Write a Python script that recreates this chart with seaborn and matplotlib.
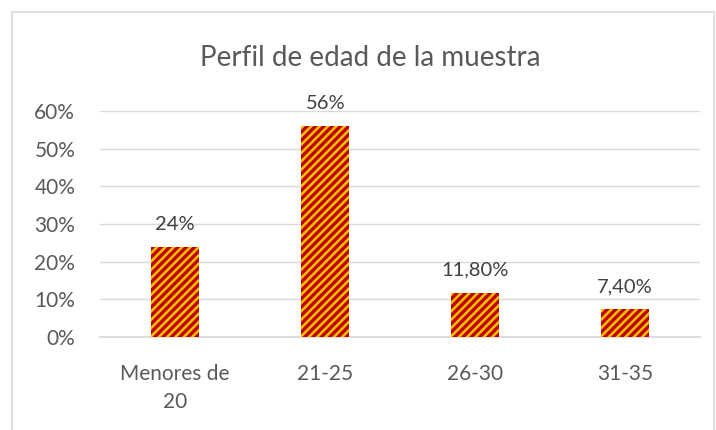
import matplotlib
matplotlib.use('Agg')
import matplotlib.pyplot as plt
import seaborn as sns
import pandas as pd
from matplotlib.patches import Rectangle

# data
categories = ['Menores de\n20', '21-25', '26-30', '31-35']
values = [24, 56, 11.8, 7.4]
value_labels = ['24%', '56%', '11,80%', '7,40%']
yticks = [0, 10, 20, 30, 40, 50, 60]
ytick_labels = ['0%', '10%', '20%', '30%', '40%', '50%', '60%']

df = pd.DataFrame({'edad': categories, 'pct': values})

sns.set_theme(style='white')
plt.rcParams['font.family'] = ['Lato', 'DejaVu Sans']
plt.rcParams['hatch.linewidth'] = 2.4

text_color = '#595959'
grid_color = '#D9D9D9'

fig = plt.figure(figsize=(7.16, 4.30), dpi=100)
ax = fig.add_axes([0.14, 0.216, 0.838, 0.526])

sns.barplot(data=df, x='edad', y='pct', width=0.32, color='#FFC000',
            saturation=1, ax=ax, zorder=3)

for p in ax.patches:
    p.set_facecolor('#FFC000')
    p.set_edgecolor('#C00000')
    p.set_hatch('////')
    p.set_linewidth(0)

for i, (v, lab) in enumerate(zip(values, value_labels)):
    ax.annotate(lab, (i, v), xytext=(0, 10), textcoords='offset points',
                ha='center', va='bottom', fontsize=14.5, color='#404040')

ax.set_ylim(0, 60)
ax.set_xlim(-0.5, 3.5)
ax.set_yticks(yticks)
ax.set_yticklabels(ytick_labels)
ax.yaxis.grid(True, color=grid_color, linewidth=1, zorder=0)
ax.set_axisbelow(True)
ax.tick_params(axis='both', length=0, labelsize=15, labelcolor=text_color)
ax.tick_params(axis='y', pad=18)
ax.tick_params(axis='x', pad=19)
for t in ax.get_xticklabels():
    t.set_linespacing(1.5)
ax.set_xlabel('')
ax.set_ylabel('')
for s in ['top', 'right', 'left']:
    ax.spines[s].set_visible(False)
ax.spines['bottom'].set_color(grid_color)

fig.text(0.517, 0.865, 'Perfil de edad de la muestra', ha='center', va='center',
         fontsize=20, color=text_color)

# chart border
fig.patches.append(Rectangle((12 / 716, -0.01), 0.98, 1 - 12 / 430 + 0.01,
                             transform=fig.transFigure, fill=False,
                             edgecolor=grid_color, linewidth=1.2))

fig.savefig('out.png', dpi=100)
